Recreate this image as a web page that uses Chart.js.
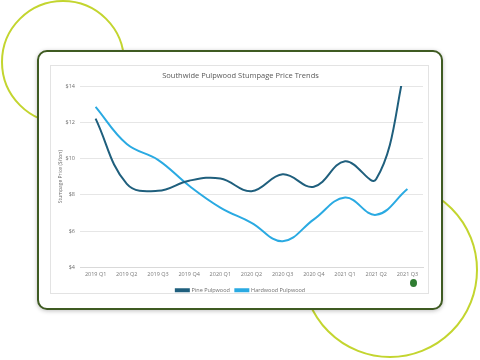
<!DOCTYPE html>
<html>
<head>
<meta charset="utf-8">
<script src="https://cdn.jsdelivr.net/npm/chart.js@4/dist/chart.umd.min.js"></script>
<style>
	html, body { margin: 0; padding: 0; background: #fff; }
	body { width: 480px; height: 360px; position: relative; overflow: hidden; font-family: "Open Sans", sans-serif; }
	.ring { position: absolute; border: 2px solid #c3d52f; border-radius: 50%; box-sizing: border-box; }
	.card { position: absolute; left: 37px; top: 50px; width: 406px; height: 260px; box-sizing: border-box;
		border: 2px solid #3f5b22; border-radius: 10px; background: #fff; box-shadow: 0 1px 4px rgba(0,0,0,0.25); }
	.frame { position: absolute; left: 50px; top: 65px; width: 379px; height: 229px; box-sizing: border-box;
		border: 1px solid #e3e3e3; background: #fff; }
	#wrap { position: absolute; left: 50px; top: 65px; width: 379px; height: 238px; }
	.logo { position: absolute; left: 410px; top: 279px; width: 7px; height: 8px; border-radius: 50%; background: #2f7d32; }
</style>
</head>
<body>
<div class="ring" style="left:1px; top:0px; width:124px; height:124px;"></div>
<div class="ring" style="left:302px; top:182px; width:176px; height:176px;"></div>
<div class="card"></div>
<div class="frame"></div>
<div id="wrap"><canvas id="chart" width="379" height="238"></canvas></div>
<div class="logo"></div>
<script>
	const quarters = ["2019 Q1", "2019 Q2", "2019 Q3", "2019 Q4", "2020 Q1", "2020 Q2", "2020 Q3", "2020 Q4", "2021 Q1", "2021 Q2", "2021 Q3"];
	const pinePulpwood = [12.2, 8.6, 8.22, 8.78, 8.9, 8.2, 9.13, 8.45, 9.85, 8.87, 15.6];
	const hardwoodPulpwood = [12.85, 10.8, 9.93, 8.5, 7.3, 6.46, 5.44, 6.65, 7.85, 6.9, 8.32];

	const textColor = "#6f6f6f";

	const ctx = document.getElementById("chart").getContext("2d");
	new Chart(ctx, {
		type: "line",
		data: {
			labels: quarters,
			datasets: [
				{
					label: "Pine Pulpwood",
					data: pinePulpwood,
					borderColor: "#1f5f7d",
					backgroundColor: "#1f5f7d",
					borderWidth: 2,
					pointRadius: 0,
					tension: 0.4,
				},
				{
					label: "Hardwood Pulpwood",
					data: hardwoodPulpwood,
					borderColor: "#2aaae2",
					backgroundColor: "#2aaae2",
					borderWidth: 2,
					pointRadius: 0,
					tension: 0.4,
				},
			],
		},
		options: {
			responsive: false,
			animation: false,
			layout: { padding: { left: 8, right: 6, top: 0, bottom: 0 } },
			plugins: {
				title: {
					display: true,
					text: "Southwide Pulpwood Stumpage Price Trends",
					color: "#595959",
					font: { family: "Open Sans", size: 7.5, weight: "normal" },
					padding: { top: 6, bottom: 6 },
				},
				legend: {
					position: "bottom",
					labels: {
						color: textColor,
						font: { family: "Open Sans", size: 5.5 },
						boxWidth: 13,
						boxHeight: 2,
						padding: 5.5,
					},
				},
				tooltip: { enabled: false },
			},
			scales: {
				x: {
					offset: true,
					grid: { display: false, drawTicks: false },
					border: { color: "#d9d9d9" },
					ticks: { color: "#7a7a7a", font: { family: "Open Sans", size: 5.5 }, maxRotation: 0, autoSkip: false, padding: 4 },
				},
				y: {
					min: 4,
					max: 14,
					grid: { color: "#e6e6e6", drawTicks: false },
					border: { display: false },
					ticks: {
						stepSize: 2,
						color: textColor,
						font: { family: "Open Sans", size: 5.5 },
						padding: 5,
						callback: (v) => "$" + v,
					},
					title: {
						display: true,
						text: "Stumpage Price ($/ton)",
						color: textColor,
						font: { family: "Open Sans", size: 5 },
						padding: 0,
					},
					afterFit: (scale) => { scale.width = 22; },
				},
			},
		},
	});
</script>
</body>
</html>
